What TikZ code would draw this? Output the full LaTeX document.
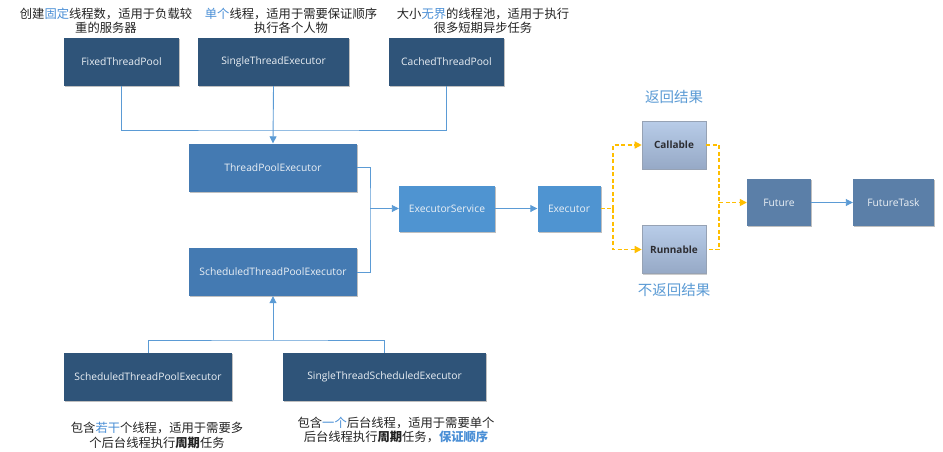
\documentclass[tikz,border=0pt]{standalone}
\usepackage{fontspec}
\setmainfont{Open Sans}
\newfontfamily\cjk{Noto Sans CJK SC}
\usetikzlibrary{arrows.meta,shadows}
\definecolor{cdark}{RGB}{47,84,121}
\definecolor{cmid}{RGB}{68,122,178}
\definecolor{clight}{RGB}{79,148,209}
\definecolor{cfut}{RGB}{91,127,168}
\definecolor{cline}{RGB}{91,155,213}
\definecolor{corange}{RGB}{255,190,0}
\definecolor{chl}{RGB}{74,143,214}
\definecolor{ctxt}{RGB}{235,240,245}
\tikzset{
  box/.style={draw=none, text=ctxt, font=\fontsize{10.3}{12}\selectfont, minimum height=48, inner sep=0pt,
    drop shadow={shadow xshift=1pt, shadow yshift=-1pt, opacity=0.25, fill=black}},
  dbox/.style={box, fill=cdark},
  mbox/.style={box, fill=cmid},
  lbox/.style={box, fill=clight, minimum height=46},
  fbox/.style={box, fill=cfut, minimum height=47},
  gbox/.style={draw={rgb,255:red,150;green,162;blue,180}, line width=0.6pt, top color={rgb,255:red,184;green,204;blue,232}, bottom color={rgb,255:red,150;green,169;blue,198},
    text={rgb,255:red,45;green,45;blue,50}, font=\fontsize{10}{12}\selectfont\bfseries, minimum width=64, minimum height=48, inner sep=0pt,
    drop shadow={shadow xshift=1pt, shadow yshift=-1pt, opacity=0.2, fill=black}},
  bline/.style={draw=cline, line width=0.9pt},
  barr/.style={bline, -{Triangle[length=7pt,width=7pt]}},
  oline/.style={draw=corange, line width=1.4pt, dash pattern=on 4pt off 2.5pt},
  oarr/.style={oline, -{Triangle[length=7pt,width=7pt]}},
  note/.style={align=center, font=\cjk\fontsize{12.3}{14.5}\selectfont, text={rgb,255:red,35;green,35;blue,35}, inner sep=0pt},
  lab/.style={font=\cjk\fontsize{14.5}{16}\selectfont, text=cline, inner sep=0pt}
}
\newcommand{\hl}[1]{\textcolor{chl}{#1}}
\begin{document}
\begin{tikzpicture}[x=1pt,y=-1pt]
\useasboundingbox[fill=white] (0,0) rectangle (943,451);
% top row
\node[dbox, minimum width=115] (fixed) at (121.5,62) {FixedThreadPool};
\node[dbox, minimum width=151] (single) at (273.5,62) {SingleThreadExecutor};
\node[dbox, minimum width=115] (cached) at (446.5,62) {CachedThreadPool};
% middle
\node[mbox, minimum width=168] (tpe) at (273,167.5) {ThreadPoolExecutor};
\node[mbox, minimum width=168] (spe) at (273,272) {ScheduledThreadPoolExecutor};
\node[lbox, minimum width=96] (es) at (447,208.5) {ExecutorService};
\node[lbox, minimum width=63] (exe) at (569,208.5) {Executor};
\node[gbox] (call) at (674,145) {Callable};
\node[gbox] (run) at (674,249.5) {Runnable};
\node[fbox, minimum width=64] (fut) at (779,202.5) {Future};
\node[fbox, minimum width=81] (ft) at (893.5,202.5) {FutureTask};
% bottom
\node[dbox, minimum width=168] (sbl) at (148,377) {ScheduledThreadPoolExecutor};
\node[dbox, minimum width=203] (sbr) at (384.5,377) {SingleThreadScheduledExecutor};
% notes
\node[note] (n1) at (106,21) {创建\hl{固定}线程数，适用于负载较\\重的服务器};
\node[note] (n2) at (291,21) {\hl{单个}线程，适用于需要保证顺序\\执行各个人物};
\node[note] (n3) at (483,21) {大小\hl{无界}的线程池，适用于执行\\很多短期异步任务};
\node[note] (n4) at (157,435.5) {包含\hl{若干}个线程，适用于需要多\\个后台线程执行\textbf{周期}任务};
\node[note] (n5) at (396,430) {包含\hl{一个}后台线程，适用于需要单个\\后台线程执行\textbf{周期}任务，\hl{\textbf{保证顺序}}};
\node[lab] (l1) at (674,97) {返回结果};
\node[lab] (l2) at (674,290) {不返回结果};
% connectors
\coordinate (j1) at (273.5,130);
\draw[bline] (fixed.south) |- (j1) -| (cached.south);
\draw[barr] (single.south) -- (tpe.north);
\coordinate (j2) at (370,208.5);
\draw[bline] (tpe.east) -| (j2) |- (spe.east);
\draw[barr] (j2) -- (es.west);
\draw[barr] (es.east) -- (exe.west);
\coordinate (j3) at (613,208.5);
\draw[oline] (exe.east) -- (j3);
\draw[oarr] (j3) |- (call.west);
\draw[oarr] (j3) |- (run.west);
\coordinate (j4) at (719,202.5);
\draw[oline] (call.east) -| (j4) |- (run.east);
\draw[oarr] (j4) -- (fut.west);
\draw[barr] (fut.east) -- (ft.west);
\coordinate (j5) at (273,340);
\draw[bline] (sbl.north) |- (j5) -| (sbr.north);
\draw[barr] (j5) -- (spe.south);
\end{tikzpicture}
\end{document}
